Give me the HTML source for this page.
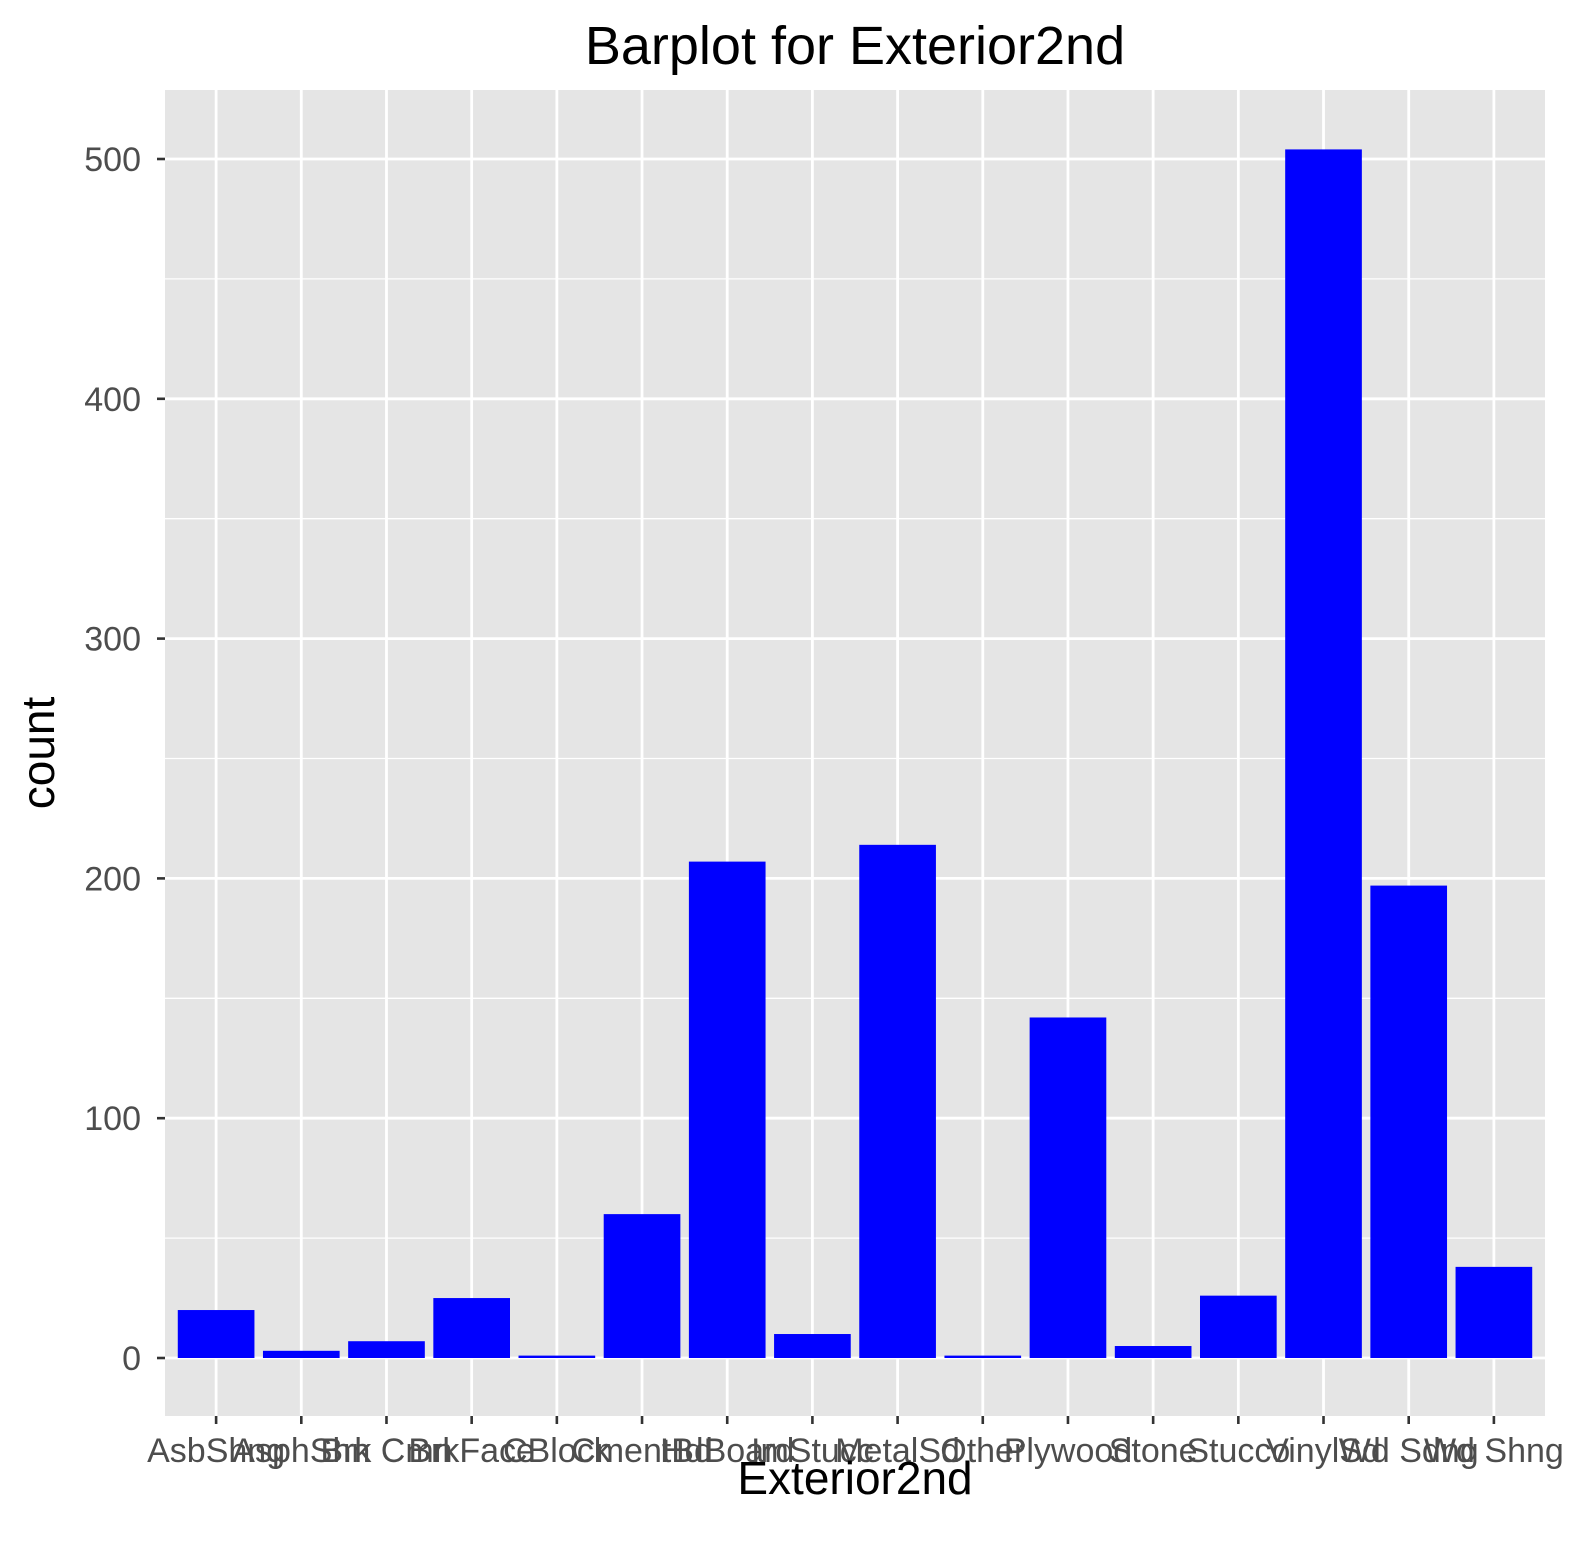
<!DOCTYPE html>
<html><head><meta charset="utf-8"><style>
html,body{margin:0;padding:0;background:#fff;}
svg{display:block;font-family:"Liberation Sans",Arial,sans-serif;}
</style></head><body>
<svg id="chart" width="1574" height="1554" viewBox="0 0 1574 1554" xmlns="http://www.w3.org/2000/svg">
<text x="855" y="64" font-size="54" text-anchor="middle" fill="#000">Barplot for Exterior2nd</text>
<rect x="165" y="90" width="1380" height="1326" fill="#e5e5e5"/>
<g id="grid"></g>
<g id="bars"></g>
<g id="axes"></g>
<text x="855" y="1494" font-size="46" text-anchor="middle" fill="#000">Exterior2nd</text>
<text transform="translate(54,753) rotate(-90)" font-size="46" text-anchor="middle" fill="#000">count</text>
</svg>
<script>
const categories = ["AsbShng","AsphShn","Brk Cmn","BrkFace","CBlock","CmentBd","HdBoard","ImStucc","MetalSd","Other","Plywood","Stone","Stucco","VinylSd","Wd Sdng","Wd Shng"];
const counts = [20,3,7,25,1,60,207,10,214,1,142,5,26,504,197,38];
const yTicks = [0,100,200,300,400,500];
const yMinor = [50,150,250,350,450];

const NS = "http://www.w3.org/2000/svg";
const panelL = 165, panelR = 1545, panelT = 90, panelB = 1416;
const n = categories.length;
const step = (panelR - panelL) / (n - 1 + 1.2);
function xPos(i){ return panelL + step * (0.6 + i); }
const y0 = 1358, pxPerUnit = (1358 - 159) / 500;
function yPos(v){ return y0 - v * pxPerUnit; }
function mk(tag, attrs, parent){
  const e = document.createElementNS(NS, tag);
  for (const k in attrs) e.setAttribute(k, attrs[k]);
  parent.appendChild(e);
  return e;
}
const grid = document.getElementById('grid');
const bars = document.getElementById('bars');
const axes = document.getElementById('axes');

yMinor.forEach(v => {
  const l = mk('line', {x1: panelL, x2: panelR, y1: yPos(v), y2: yPos(v), stroke: '#fff', 'stroke-width': 1.3}, grid);
  
  
});
yTicks.forEach(v => {
  const l = mk('line', {x1: panelL, x2: panelR, y1: yPos(v), y2: yPos(v), stroke: '#fff', 'stroke-width': 2.8}, grid);
  
  
  const t = mk('line', {x1: panelL - 8, x2: panelL, y1: yPos(v), y2: yPos(v), stroke: '#333', 'stroke-width': 2.6}, axes);
  
  
  const lb = mk('text', {x: panelL - 24, y: yPos(v) + 12, 'font-size': 34, 'text-anchor': 'end', fill: '#4d4d4d'}, axes);
  lb.textContent = v;
  
  
});
categories.forEach((c, i) => {
  const x = xPos(i);
  const g = mk('line', {x1: x, x2: x, y1: panelT, y2: panelB, stroke: '#fff', 'stroke-width': 2.8}, grid);
  
  
  const bw = step * 0.9;
  const b = mk('rect', {x: x - bw / 2, y: yPos(counts[i]), width: bw, height: yPos(0) - yPos(counts[i]), fill: '#0000ff'}, bars);
  
  
  const t = mk('line', {x1: x, x2: x, y1: panelB, y2: panelB + 8, stroke: '#333', 'stroke-width': 2.6}, axes);
  
  
  const lb = mk('text', {x: x, y: panelB + 46, 'font-size': 34, 'text-anchor': 'middle', fill: '#4d4d4d'}, axes);
  lb.textContent = c;
  
  
});
</script>
</body></html>
